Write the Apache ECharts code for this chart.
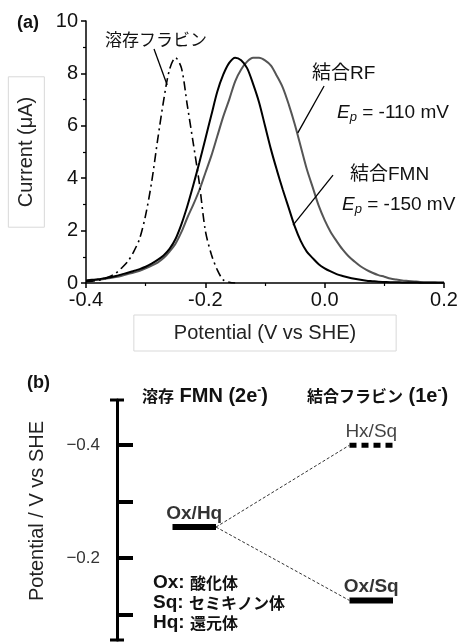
<!DOCTYPE html>
<html lang="ja">
<head>
<meta charset="UTF-8">
<title>フラビンの電位</title>
<script src="https://cdn.jsdelivr.net/npm/echarts@6.0.0/dist/echarts.min.js"></script>
<style>
    html, body { margin: 0; padding: 0; background: #fff; }
    #chart { width: 460px; height: 643px; }
</style>
</head>
<body>
<div id="chart"></div>
<script>
// (a) ボルタモグラム: 電位 (V vs SHE) と電流 (μA)
const potentials = [
    -0.40, -0.39, -0.38, -0.37, -0.36, -0.35, -0.34, -0.33, -0.32, -0.31,
    -0.30, -0.29, -0.28, -0.27, -0.26, -0.25, -0.24, -0.23, -0.22, -0.21,
    -0.20, -0.19, -0.18, -0.17, -0.16, -0.15, -0.14, -0.13, -0.12, -0.11,
    -0.10, -0.09, -0.08, -0.07, -0.06, -0.05, -0.04, -0.03, -0.02, -0.01,
    0.00, 0.01, 0.02, 0.03, 0.04, 0.05, 0.06, 0.07, 0.08, 0.09,
    0.10, 0.11, 0.12, 0.13, 0.14, 0.15, 0.16, 0.17, 0.18, 0.19, 0.20
];
// 溶存フラビン (-0.40 .. -0.15)
const dissolvedFlavin = [
    0.05, 0.07, 0.10, 0.15, 0.25, 0.38, 0.58, 0.82, 1.20, 1.70,
    2.60, 3.85, 5.45, 6.95, 8.15, 8.60, 8.20, 6.75, 5.30, 3.80,
    2.00, 1.10, 0.50, 0.12, 0.03, 0.00
];
// 結合FMN
const boundFmn = [
    0.10, 0.12, 0.14, 0.18, 0.22, 0.27, 0.33, 0.39, 0.46, 0.53,
    0.62, 0.74, 0.88, 1.05, 1.30, 1.68, 2.25, 2.95, 3.75, 4.60,
    5.50, 6.40, 7.30, 7.95, 8.40, 8.60, 8.50, 8.20, 7.60, 6.90,
    6.00, 5.10, 4.30, 3.55, 2.85, 2.15, 1.60, 1.20, 0.95, 0.72,
    0.56, 0.44, 0.34, 0.27, 0.21, 0.16, 0.12, 0.09, 0.07, 0.05,
    0.04, 0.03, 0.03, 0.02, 0.02, 0.02, 0.01, 0.01, 0.01, 0.01, 0.01
];
// 結合RF
const boundRf = [
    0.09, 0.10, 0.12, 0.15, 0.19, 0.23, 0.28, 0.34, 0.40, 0.47,
    0.56, 0.66, 0.78, 0.95, 1.20, 1.50, 1.95, 2.50, 3.00, 3.55,
    4.20, 4.85, 5.60, 6.35, 7.00, 7.70, 8.15, 8.45, 8.60, 8.60,
    8.50, 8.30, 7.90, 7.45, 6.80, 6.05, 5.20, 4.35, 3.65, 2.95,
    2.40, 1.95, 1.60, 1.28, 1.02, 0.82, 0.64, 0.50, 0.39, 0.30,
    0.24, 0.17, 0.13, 0.10, 0.08, 0.06, 0.04, 0.03, 0.03, 0.02, 0.02
];
// 引き出し線 [始点, 終点] (データ座標)
const leaderFlavin = [[-0.286, 8.93], [-0.264, 7.56]];
const leaderRf = [[-0.001, 7.52], [-0.045, 5.73]];
const leaderFmn = [[0.014, 4.12], [-0.053, 2.21]];

// (b) 電位図
const levelNames = ['Ox/Hq', 'Hx/Sq', 'Ox/Sq'];
const levelPotentials = [-0.255, -0.40, -0.125];
const levelColumns = [0, 1, 1];
const potentialTicks = [-0.4, -0.3, -0.2, -0.1];
const potentialLabels = [-0.4, -0.2];

const LATIN = '"Liberation Sans", Arial, "Noto Sans CJK JP"';
const CJK = '"Noto Sans CJK JP", "Liberation Sans"';
const columnSpan = [[1.85, 3.3], [7.75, 9.2]];

function pairs(ys) {
    return ys.map((y, i) => [potentials[i], y]);
}

function leader(points) {
    return {
        type: 'line', xAxisIndex: 0, yAxisIndex: 0, data: points,
        symbol: 'none', silent: true, clip: false,
        lineStyle: {color: '#000', width: 1.3}
    };
}

let series = [
    {
        name: '結合RF', type: 'line', xAxisIndex: 0, yAxisIndex: 0,
        data: pairs(boundRf), smooth: 0.3, symbol: 'none',
        lineStyle: {color: '#555', width: 2}
    },
    {
        name: '結合FMN', type: 'line', xAxisIndex: 0, yAxisIndex: 0,
        data: pairs(boundFmn), smooth: 0.3, symbol: 'none',
        lineStyle: {color: '#000', width: 2}
    },
    {
        name: '溶存フラビン', type: 'line', xAxisIndex: 0, yAxisIndex: 0,
        data: pairs(dissolvedFlavin), smooth: 0.3, symbol: 'none',
        lineStyle: {color: '#000', width: 1.6, type: [9, 4, 2, 4]}
    },
    leader(leaderFlavin),
    leader(leaderRf),
    leader(leaderFmn)
];

// 準位の横棒
levelNames.forEach((name, i) => {
    const span = columnSpan[levelColumns[i]];
    const dashed = name === 'Hx/Sq';
    series.push({
        type: 'line', xAxisIndex: 1, yAxisIndex: 1, symbol: 'none', silent: true, clip: false,
        data: [[span[0], levelPotentials[i]], [span[1], levelPotentials[i]]],
        lineStyle: {color: '#000', width: dashed ? 5 : 6, type: dashed ? [7, 5] : 'solid', cap: 'butt'}
    });
});

// 点線 (溶存 -> 結合)
levelNames.forEach((name, i) => {
    if (levelColumns[i] !== 1) return;
    series.push({
        type: 'line', xAxisIndex: 1, yAxisIndex: 1, symbol: 'none', silent: true, clip: false,
        data: [[columnSpan[0][1], levelPotentials[0]], [columnSpan[1][0], levelPotentials[i]]],
        lineStyle: {color: '#333', width: 1, type: [3, 2]}
    });
});

// 準位ラベル
series.push({
    type: 'scatter', xAxisIndex: 1, yAxisIndex: 1, symbolSize: 0, silent: true, clip: false,
    data: levelNames.map((name, i) => {
        const span = columnSpan[levelColumns[i]];
        return {
            name: name,
            value: [(span[0] + span[1]) / 2, levelPotentials[i]],
            label: {
                fontWeight: name === 'Hx/Sq' ? 'normal' : 'bold',
                color: name === 'Hx/Sq' ? '#111' : '#000'
            }
        };
    }),
    label: {
        show: true, position: 'top', distance: 4, formatter: '{b}',
        fontSize: 19, fontFamily: LATIN
    }
});

function text(x, y, str, extra) {
    return {
        type: 'text', x: x, y: y, silent: true, z: 10,
        style: Object.assign({
            text: str, fill: '#111', align: 'left', verticalAlign: 'middle',
            textAlign: 'left', textVerticalAlign: 'middle',
            fontSize: 19, fontFamily: LATIN
        }, extra || {})
    };
}

const epRich = {
    i: {fontStyle: 'italic', fontSize: 19, fontFamily: LATIN, lineHeight: 22},
    s: {fontStyle: 'italic', fontSize: 13, fontFamily: LATIN, lineHeight: 12, verticalAlign: 'bottom'},
    n: {fontSize: 19, fontFamily: LATIN, lineHeight: 22}
};
const headRich = {
    c: {fontSize: 16, fontWeight: 'bold', fontFamily: CJK, lineHeight: 22},
    l: {fontSize: 20, fontWeight: 'bold', fontFamily: LATIN, lineHeight: 22},
    u: {fontSize: 12, fontWeight: 'bold', fontFamily: LATIN, lineHeight: 12, verticalAlign: 'top'}
};
const noteRich = {
    l: {fontSize: 19, fontWeight: 'bold', fontFamily: LATIN, lineHeight: 20},
    c: {fontSize: 16, fontWeight: 'bold', fontFamily: CJK, lineHeight: 20}
};

const graphics = [
    text(17, 23, '(a)', {fontSize: 18, fontWeight: 'bold'}),
    text(105, 40, '溶存フラビン', {fontSize: 17, fontFamily: CJK}),
    text(312, 74, '結合RF'),
    text(337, 113, '{i|E}{s|p}{n| = -110 mV}', {rich: epRich}),
    text(350, 175, '結合FMN'),
    text(342, 205, '{i|E}{s|p}{n| = -150 mV}', {rich: epRich}),
    text(27, 383, '(b)', {fontSize: 18, fontWeight: 'bold'}),
    text(142, 396, '{c|溶存}{l| FMN (2e}{u|-}{l|)}', {rich: headRich}),
    text(307, 396, '{c|結合フラビン}{l| (1e}{u|-}{l|)}', {rich: headRich}),
    text(153, 583, '{l|Ox: }{c|酸化体}', {rich: noteRich}),
    text(153, 603, '{l|Sq: }{c|セミキノン体}', {rich: noteRich}),
    text(153, 623, '{l|Hq: }{c|還元体}', {rich: noteRich}),
    {
        type: 'text', x: 37, y: 511, rotation: Math.PI / 2, silent: true,
        style: {
            text: 'Potential / V vs SHE', fill: '#222', fontSize: 20, fontFamily: LATIN,
            align: 'center', verticalAlign: 'middle', textAlign: 'center', textVerticalAlign: 'middle'
        }
    }
];

const nameBox = {fontSize: 20, color: '#222', fontFamily: LATIN, borderColor: '#d9d9d9', borderWidth: 1};

const chart = echarts.init(document.getElementById('chart'), null, {renderer: 'canvas'});
chart.setOption({
    animation: false,
    backgroundColor: '#fff',
    grid: [
        {left: 86, top: 21, width: 358, height: 262, outerBoundsMode: 'none'},
        {left: 117, top: 400, width: 300, height: 240, outerBoundsMode: 'none'}
    ],
    xAxis: [
        {
            gridIndex: 0, type: 'value', min: -0.4, max: 0.2, interval: 0.2,
            axisLine: {onZero: false, lineStyle: {color: '#000', width: 1.5}},
            axisTick: {length: 5, lineStyle: {color: '#000', width: 1.5}},
            minorTick: {show: true, splitNumber: 2, length: 3, lineStyle: {color: '#000', width: 1.2}},
            splitLine: {show: false},
            axisLabel: {fontSize: 20, color: '#111', fontFamily: LATIN, margin: 7,
                formatter: v => v.toFixed(1)},
            name: 'Potential (V vs SHE)', nameLocation: 'middle', nameGap: 32,
            nameTextStyle: Object.assign({padding: [8, 40]}, nameBox)
        },
        {gridIndex: 1, type: 'value', min: 0, max: 10, show: false}
    ],
    yAxis: [
        {
            gridIndex: 0, type: 'value', min: 0, max: 10, interval: 2,
            axisLine: {show: true, onZero: false, lineStyle: {color: '#000', width: 1.5}},
            axisTick: {show: true, length: 5, lineStyle: {color: '#000', width: 1.5}},
            minorTick: {show: true, splitNumber: 2, length: 3, lineStyle: {color: '#000', width: 1.2}},
            splitLine: {show: false},
            axisLabel: {fontSize: 20, color: '#111', fontFamily: LATIN, margin: 8},
            name: 'Current (μA)', nameLocation: 'middle', nameGap: 33,
            nameTextStyle: Object.assign({padding: [8, 20]}, nameBox)
        },
        {
            gridIndex: 1, type: 'value', inverse: true, min: -0.48, max: -0.055,
            axisLine: {show: true, onZero: false, symbol: ['rect', 'rect'], symbolSize: [14, 3],
                lineStyle: {color: '#000', width: 3}},
            axisTick: {show: true, inside: true, length: 16, customValues: potentialTicks,
                lineStyle: {color: '#000', width: 4}},
            axisLabel: {customValues: potentialLabels, fontSize: 17, color: '#333', fontFamily: LATIN,
                margin: 17, formatter: v => '\u2212' + Math.abs(v).toFixed(1)},
            splitLine: {show: false}
        }
    ],
    series: series,
    graphic: graphics
});
</script>
</body>
</html>
